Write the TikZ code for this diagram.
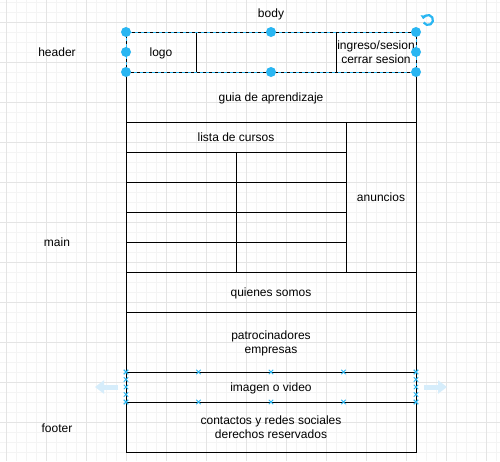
\documentclass[tikz,border=0pt]{standalone}
\usepackage{fontspec}
\setmainfont{Liberation Sans}
\usetikzlibrary{positioning, calc, arrows.meta}
\definecolor{selblue}{HTML}{29B6F2}
\definecolor{hoverblue}{HTML}{D6EDFB}
\definecolor{gridminor}{HTML}{F4F4F4}
\definecolor{gridmajor}{HTML}{E4E4E4}
\begin{document}
\begin{tikzpicture}[x=1pt, y=-1pt, node distance=0pt,
	box/.style = {draw, rectangle, line width=1pt, inner sep=0pt, outer sep=0pt, align=center, text depth=0pt, font=\fontsize{12}{14}\selectfont},
	lbl/.style = {text depth=0pt, font=\fontsize{12}{14}\selectfont},
	handle/.style = {circle, fill=selblue, inner sep=0pt, minimum size=10pt}]
	\useasboundingbox[fill=white] (0,0) rectangle (500,461);
	\foreach \k in {0,...,49} {
		\draw[gridminor, line width=0.8pt] ({6.5+10*\k},0) -- ({6.5+10*\k},461);
		\draw[gridminor, line width=0.8pt] (0,{2.5+10*\k}) -- (500,{2.5+10*\k});
	}
	\foreach \k in {0,...,12} {
		\draw[gridmajor, line width=0.8pt] ({6.5+40*\k},0) -- ({6.5+40*\k},461);
		\draw[gridmajor, line width=0.8pt] (0,{22.5+40*\k}) -- (500,{22.5+40*\k});
	}
	\node[box, minimum width=70pt, minimum height=40pt, anchor=north west] (logo) at (126,32) {logo};
	\node[box, minimum width=140pt, minimum height=40pt, right=of logo] (blank) {};
	\node[box, minimum width=80pt, minimum height=40pt, right=of blank] (ingreso) {ingreso/sesion\\cerrar sesion};
	\node[box, minimum width=290pt, minimum height=50pt, below right=of logo.south west] (guia) {guia de aprendizaje};
	\node[box, minimum width=220pt, minimum height=30pt, below right=of guia.south west] (lista) {lista de cursos};
	\node[box, minimum width=70pt, minimum height=150pt, below right=of lista.north east] (anuncios) {anuncios};
	\foreach \p [count=\r] in {lista, c1a, c2a, c3a} {
		\node[box, minimum width=110pt, minimum height=30pt, below right=of \p.south west] (c\r a) {};
		\node[box, minimum width=110pt, minimum height=30pt, right=of c\r a] (c\r b) {};
	}
	\node[box, minimum width=290pt, minimum height=40pt, below right=of c4a.south west] (quienes) {quienes somos};
	\node[box, minimum width=290pt, minimum height=60pt, below right=of quienes.south west] (patro) {patrocinadores\\ empresas};
	\node[box, minimum width=290pt, minimum height=30pt, below right=of patro.south west] (imagen) {imagen o video};
	\node[box, minimum width=290pt, minimum height=50pt, below right=of imagen.south west] (footer) {contactos y redes sociales\\derechos reservados};
	\node[lbl] (bodylbl) at (271,13) {body};
	\node[lbl] (headerlbl) at (57,52) {header};
	\node[lbl] (mainlbl) at (57,242) {main};
	\node[lbl] (footerlbl) at (57,428) {footer};
	\draw[selblue, line width=1pt, dash pattern=on 3pt off 3pt] (logo.north west) rectangle (ingreso.south east);
	\foreach \pt in {(logo.north west), (logo.west), (logo.south west), (ingreso.north east), (ingreso.east), (ingreso.south east), (guia.north |- logo.north), (guia.north)}
		\node[handle] at \pt {};
	\draw[selblue, line width=2.2pt, -{Triangle[length=3.5pt, width=6pt]}] (428,20) ++(150:5) arc[start angle=150, end angle=-170, radius=5];
	\foreach \f in {0, 0.25, 0.5, 0.75, 1} {
		\foreach \e/\g in {north west/north east, south west/south east, north west/south west, north east/south east}
			\draw[selblue, line width=0.9pt] ($(imagen.\e)!\f!(imagen.\g)$) +(-2.2,-2.2) -- +(2.2,2.2) +(-2.2,2.2) -- +(2.2,-2.2);
	}
	\draw[hoverblue, line width=5pt, -{Triangle[length=9pt, width=13pt]}] (118,387) -- (95,387);
	\draw[hoverblue, line width=5pt, -{Triangle[length=9pt, width=13pt]}] (424,387) -- (447,387);
\end{tikzpicture}
\end{document}
